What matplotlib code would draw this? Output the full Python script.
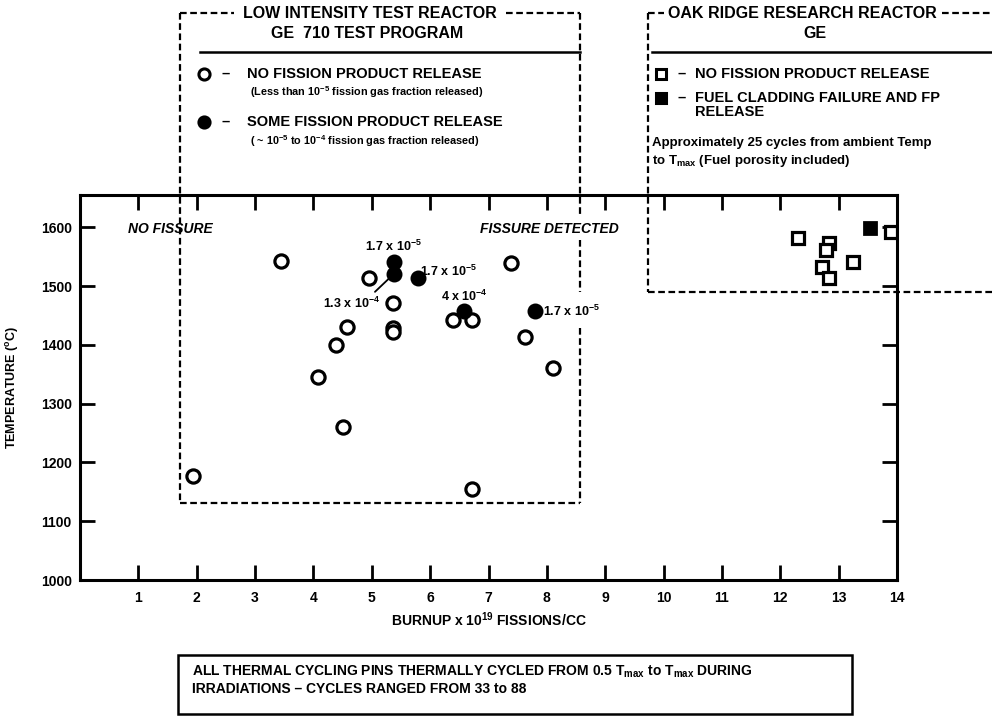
import matplotlib
matplotlib.use("Agg")
import matplotlib.pyplot as plt
from matplotlib.lines import Line2D
from matplotlib.patches import Rectangle

plt.rcParams['font.family'] = ['Liberation Sans Narrow', 'Liberation Sans', 'DejaVu Sans']
plt.rcParams['font.weight'] = 'bold'
plt.rcParams['axes.labelweight'] = 'bold'
plt.rcParams['mathtext.fontset'] = 'custom'
plt.rcParams['mathtext.rm'] = 'Liberation Sans:bold'
plt.rcParams['mathtext.it'] = 'Liberation Sans:bold:italic'
plt.rcParams['mathtext.bf'] = 'Liberation Sans:bold'

# ---------------- data ----------------
open_circle_burnup = [1.93, 3.44, 4.07, 4.38, 4.50, 4.57, 4.95, 5.37, 5.37, 5.37, 6.39, 6.72, 6.71, 7.39, 7.63, 8.10]
open_circle_temp = [1177, 1543, 1346, 1400, 1261, 1431, 1513, 1471, 1428, 1422, 1442, 1442, 1154, 1540, 1414, 1361]
filled_circle_burnup = [5.38, 5.38, 5.79, 6.58, 7.80]
filled_circle_temp = [1541, 1521, 1514, 1458, 1457]
filled_circle_labels = ["1.7 x 10$^{-5}$", "1.3 x 10$^{-4}$", "1.7 x 10$^{-5}$", "4 x 10$^{-4}$", "1.7 x 10$^{-5}$"]
open_square_burnup = [12.31, 12.83, 12.79, 12.71, 12.84, 13.24, 13.89]
open_square_temp = [1582, 1573, 1561, 1533, 1513, 1541, 1592]
filled_square_burnup = [13.54]
filled_square_temp = [1599]
x_ticks = list(range(1, 15))
y_ticks = [1000, 1100, 1200, 1300, 1400, 1500, 1600]

W, H = 992, 717
fig = plt.figure(figsize=(W / 100, H / 100), dpi=100)

def fx(px):
    return px / W

def fy(py):
    return 1 - py / H

ax = fig.add_axes([fx(80), fy(580), fx(897) - fx(80), fy(195) - fy(580)])
ax.set_xlim(0, 14)
ax.set_ylim(1000, 1655)

ms = 9.5
ax.plot(open_circle_burnup, open_circle_temp, 'o', ms=ms, mfc='white', mec='black', mew=2.3, ls='none', zorder=3)
ax.plot(filled_circle_burnup, filled_circle_temp, 'o', ms=ms, mfc='black', mec='black', mew=2.0, ls='none', zorder=4)
ax.plot(open_square_burnup, open_square_temp, 's', ms=8.5, mfc='white', mec='black', mew=2.3, ls='none', zorder=3)
ax.plot(filled_square_burnup, filled_square_temp, 's', ms=8.5, mfc='black', mec='black', mew=2.0, ls='none', zorder=4)

ax.set_xticks(x_ticks)
ax.set_xticklabels([str(t) for t in x_ticks])
ax.set_yticks(y_ticks)
ax.set_yticklabels([str(t) for t in y_ticks])
ax.tick_params(axis='both', direction='in', length=11, width=2, labelsize=10)
ax.tick_params(axis='x', top=True, bottom=True, pad=8)
ax.tick_params(axis='y', left=True, right=True, pad=6)
for s in ax.spines.values():
    s.set_linewidth(2.2)

ax.set_xlabel("BURNUP x 10$^{19}$ FISSIONS/CC", fontsize=10, labelpad=4)
ax.set_ylabel("TEMPERATURE ($^{\\mathrm{o}}$C)", fontsize=9, labelpad=14)

# in-plot annotations
ax.text(0.82, 1598, "NO FISSURE", fontsize=10, style='italic', ha='left', va='center')
ax.text(6.85, 1598, "FISSURE DETECTED", fontsize=10, style='italic', ha='left', va='center')
lbl_kw = dict(fontsize=9, va='center')
ax.text(5.38, 1567, filled_circle_labels[0], ha='center', **lbl_kw)
ax.text(5.82, 1525, filled_circle_labels[2], ha='left', **lbl_kw)
ax.text(5.15, 1470, filled_circle_labels[1], ha='right', **lbl_kw)
ax.annotate("", xy=(5.38, 1521), xytext=(5.02, 1487),
            arrowprops=dict(arrowstyle='-', lw=1.3, color='black'))
ax.text(6.58, 1483, filled_circle_labels[3], ha='center', **lbl_kw)
ax.text(7.93, 1457, filled_circle_labels[4], ha='left', **lbl_kw)

# ------------- dashed boxes (figure coords) -------------
dkw = dict(color='black', lw=1.6, ls=(0, (3, 1.6)), transform=fig.transFigure, zorder=5)

def hline(x0, x1, y):
    fig.add_artist(Line2D([fx(x0), fx(x1)], [fy(y), fy(y)], **dkw))

def vline(x, y0, y1):
    fig.add_artist(Line2D([fx(x), fx(x)], [fy(y0), fy(y1)], **dkw))

# LITR box
hline(180, 234, 13)
hline(506, 580, 13)
vline(180, 13, 503)
hline(180, 580, 503)
vline(580, 13, 215)
vline(580, 240, 292)
vline(580, 328, 503)
# ORR box
hline(648, 664, 13)
hline(942, 992, 13)
vline(648, 13, 292)
hline(648, 992, 292)

# headers
fig.text(fx(370), fy(14), "LOW INTENSITY TEST REACTOR", fontsize=11.5, ha='center', va='center')
fig.text(fx(367), fy(34), "GE  710 TEST PROGRAM", fontsize=11.5, ha='center', va='center')
fig.add_artist(Line2D([fx(200), fx(580)], [fy(52), fy(52)], color='black', lw=1.8, transform=fig.transFigure))
fig.text(fx(802), fy(14), "OAK RIDGE RESEARCH REACTOR", fontsize=11.5, ha='center', va='center')
fig.text(fx(815), fy(34), "GE", fontsize=11.5, ha='center', va='center')
fig.add_artist(Line2D([fx(652), fx(992)], [fy(52), fy(52)], color='black', lw=1.8, transform=fig.transFigure))

# LITR legend
fig.add_artist(Line2D([fx(204)], [fy(74)], marker='o', ms=8, mfc='white', mec='black', mew=2.2, transform=fig.transFigure))
fig.text(fx(222), fy(74), "–", fontsize=10.5, ha='left', va='center')
fig.text(fx(247), fy(74), "NO FISSION PRODUCT RELEASE", fontsize=10.5, ha='left', va='center')
fig.text(fx(250), fy(92), "(Less than 10$^{-5}$ fission gas fraction released)", fontsize=7.8, ha='left', va='center')
fig.add_artist(Line2D([fx(204)], [fy(122)], marker='o', ms=8, mfc='black', mec='black', mew=2.2, transform=fig.transFigure))
fig.text(fx(222), fy(122), "–", fontsize=10.5, ha='left', va='center')
fig.text(fx(247), fy(122), "SOME FISSION PRODUCT RELEASE", fontsize=10.5, ha='left', va='center')
fig.text(fx(250), fy(141), "( ~ 10$^{-5}$ to 10$^{-4}$ fission gas fraction released)", fontsize=7.8, ha='left', va='center')

# ORR legend
fig.add_artist(Line2D([fx(661)], [fy(74)], marker='s', ms=7.5, mfc='white', mec='black', mew=2.2, transform=fig.transFigure))
fig.text(fx(677), fy(74), "–", fontsize=10.5, ha='left', va='center')
fig.text(fx(695), fy(74), "NO FISSION PRODUCT RELEASE", fontsize=10.5, ha='left', va='center')
fig.add_artist(Line2D([fx(661)], [fy(98)], marker='s', ms=7.5, mfc='black', mec='black', mew=2.2, transform=fig.transFigure))
fig.text(fx(677), fy(98), "–", fontsize=10.5, ha='left', va='center')
fig.text(fx(695), fy(98), "FUEL CLADDING FAILURE AND FP", fontsize=10.5, ha='left', va='center')
fig.text(fx(695), fy(112), "RELEASE", fontsize=10.5, ha='left', va='center')
fig.text(fx(652), fy(143), "Approximately 25 cycles from ambient Temp", fontsize=9.5, ha='left', va='center')
fig.text(fx(652), fy(161), "to T$_{\\mathrm{max}}$ (Fuel porosity included)", fontsize=9.5, ha='left', va='center')

# bottom note box
fig.add_artist(Rectangle((fx(178), fy(714)), fx(852) - fx(178), fy(655) - fy(714),
                         fill=False, ec='black', lw=1.8, transform=fig.transFigure))
fig.text(fx(192), fy(672), "ALL THERMAL CYCLING PINS THERMALLY CYCLED FROM 0.5 T$_{\\mathrm{max}}$ to T$_{\\mathrm{max}}$ DURING",
         fontsize=10, ha='left', va='center')
fig.text(fx(192), fy(689), "IRRADIATIONS – CYCLES RANGED FROM 33 to 88", fontsize=10, ha='left', va='center')

fig.savefig("out.png", dpi=100)
